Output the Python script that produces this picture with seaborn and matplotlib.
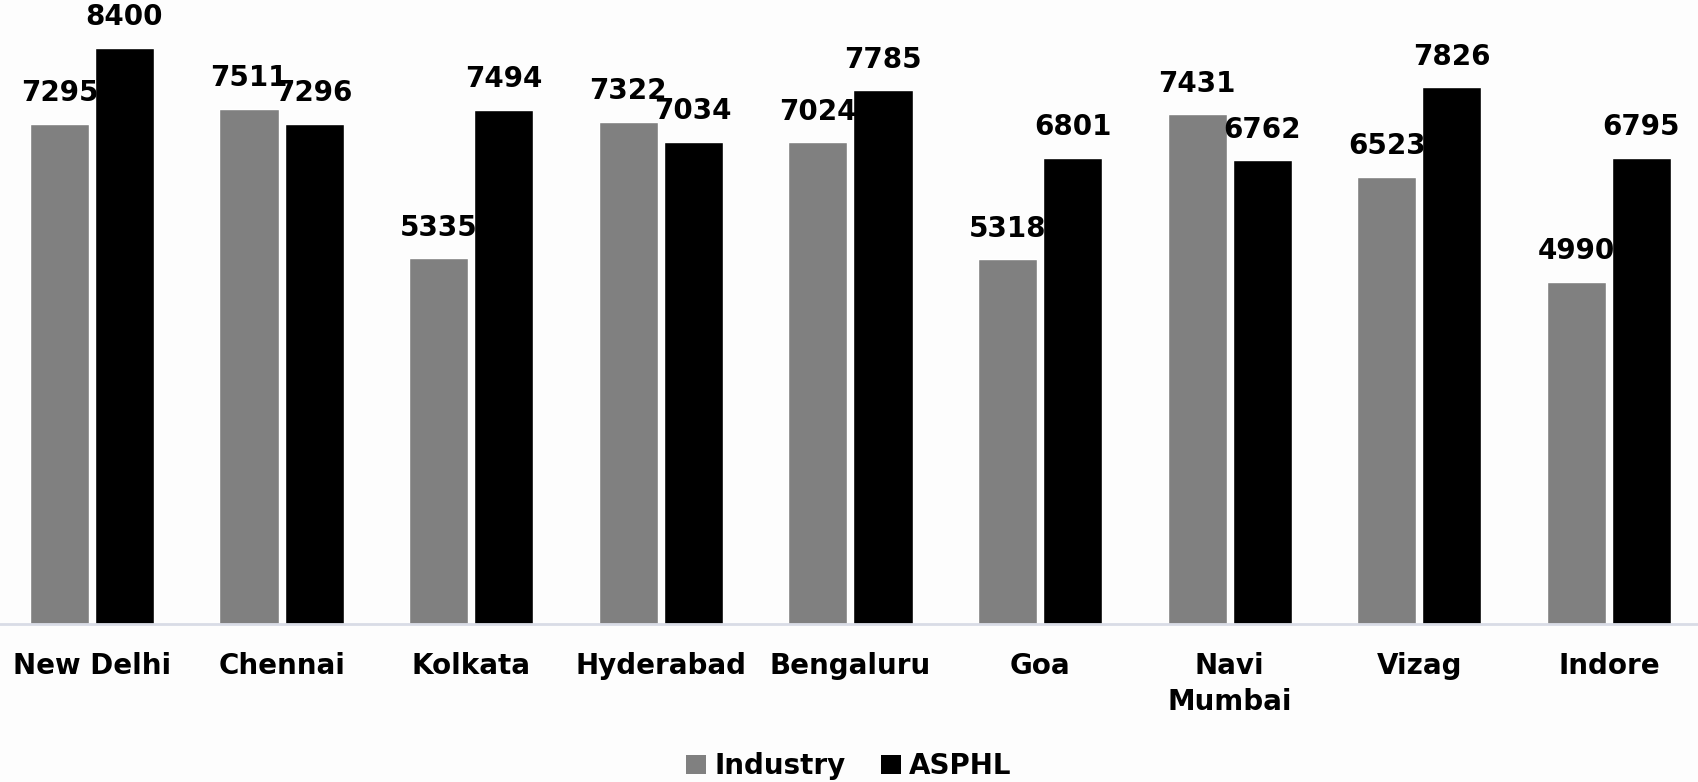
import matplotlib
matplotlib.use("Agg")
import matplotlib.pyplot as plt
import seaborn as sns
import pandas as pd
from matplotlib.patches import Patch

cities = ["New Delhi", "Chennai", "Kolkata", "Hyderabad", "Bengaluru", "Goa", "Navi\nMumbai", "Vizag", "Indore"]
industry = [7295, 7511, 5335, 7322, 7024, 5318, 7431, 6523, 4990]
asphl = [8400, 7296, 7494, 7034, 7785, 6801, 6762, 7826, 6795]
series = ["Industry", "ASPHL"]
colors = ["#808080", "#000000"]

df = pd.DataFrame({
    "city": cities * 2,
    "value": industry + asphl,
    "series": [series[0]] * len(cities) + [series[1]] * len(cities),
})

sns.set_theme(style="white")
plt.rcParams["font.family"] = ["DejaVu Sans"]
plt.rcParams["text.color"] = "black"
plt.rcParams["xtick.color"] = "black"
plt.rcParams["xtick.labelcolor"] = "black"

fig = plt.figure(figsize=(16.98, 7.82), dpi=100)
fig.patch.set_facecolor("#fdfdfd")
ax = fig.add_axes([0.0, 0.202, 1.0, 0.798])
ax.set_facecolor("#fdfdfd")

sns.barplot(data=df, x="city", y="value", hue="series", palette=colors,
            width=0.686, gap=0.09, ax=ax, legend=False, saturation=1)

W = "bold"
FS = 20
for cont in ax.containers:
    ax.bar_label(cont, fmt="%d", padding=12, fontsize=FS, fontweight=W, color="black")

ax.set_ylim(0, 9100)
ax.set_xlim(-0.485, 8.47)
ax.set_xlabel("")
ax.set_ylabel("")
ax.set_yticks([])
for s in ["top", "left", "right"]:
    ax.spines[s].set_visible(False)
ax.spines["bottom"].set_color("#d9dce6")
ax.spines["bottom"].set_linewidth(2)
ax.tick_params(axis="x", length=0, pad=20, labelsize=FS, labelcolor="black")
for lab in ax.get_xticklabels():
    lab.set_fontweight(W)
    lab.set_color("black")
    lab.set_verticalalignment("top")
    lab.set_linespacing(1.35)

handles = [Patch(facecolor=c, edgecolor="none") for c in colors]
fig.legend(handles, series, loc="lower center", bbox_to_anchor=(0.5, -0.03), ncol=2,
           frameon=False, prop={"size": FS, "weight": W}, labelcolor="black",
           handlelength=0.7, handleheight=0.7, handletextpad=0.3, columnspacing=1.3)

fig.savefig("out.png", dpi=100, facecolor=fig.get_facecolor())
